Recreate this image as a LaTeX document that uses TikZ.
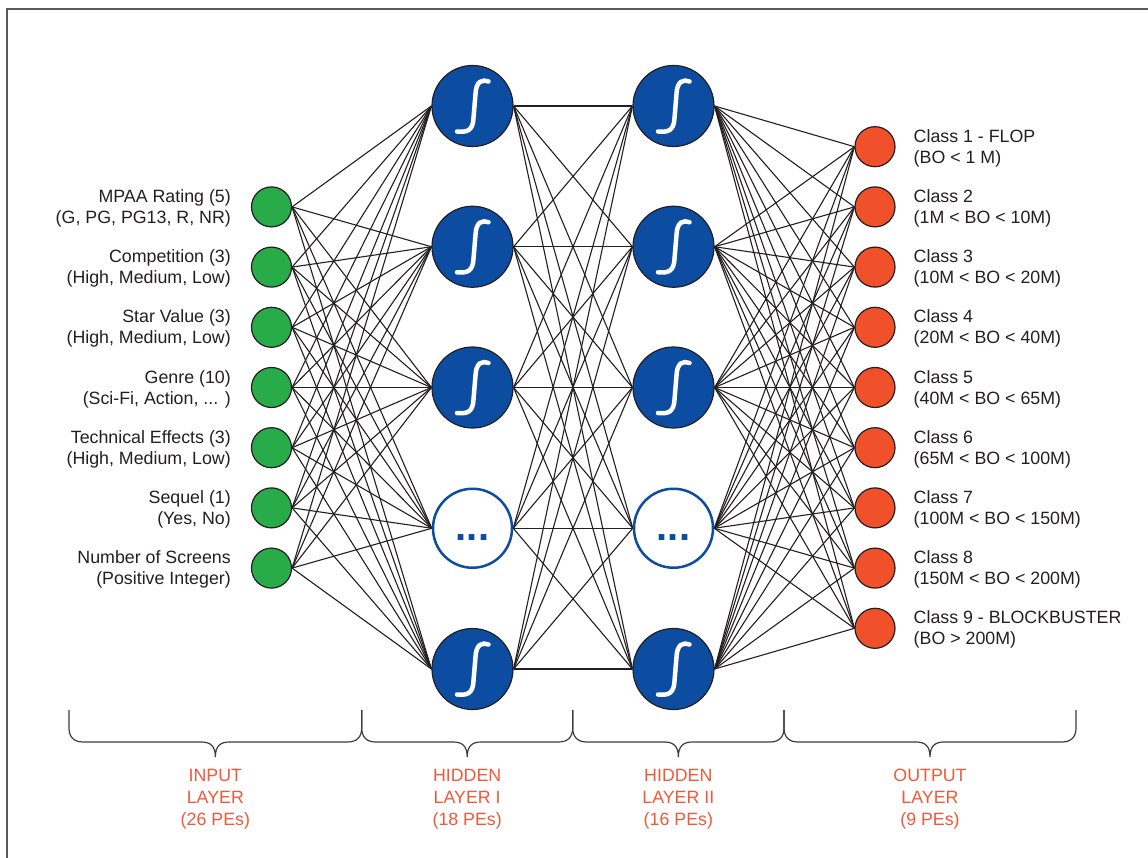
\documentclass[tikz,border=0pt]{standalone}
\usepackage{fontspec}
\setmainfont{Liberation Sans}
\pgfdeclarelayer{bg}
\pgfsetlayers{bg,main}
\definecolor{inkc}{RGB}{35,31,32}
\definecolor{greenfill}{RGB}{40,172,74}
\definecolor{orangefill}{RGB}{241,81,42}
\definecolor{bluefill}{RGB}{12,77,162}
\definecolor{layerorange}{RGB}{241,88,58}
\definecolor{bracec}{RGB}{60,60,60}
\definecolor{framec}{RGB}{90,90,90}
\tikzset{
  inp/.style={circle, draw=inkc, line width=1.2pt, fill=greenfill, minimum size=40pt, inner sep=0pt},
  outp/.style={circle, draw=inkc, line width=1.2pt, fill=orangefill, minimum size=40pt, inner sep=0pt},
  hid/.style={circle, draw=inkc, line width=1.2pt, fill=bluefill, minimum size=81pt, inner sep=0pt},
  hiddots/.style={circle, draw=bluefill, line width=2.5pt, fill=white, minimum size=79pt, inner sep=0pt},
  conn/.style={draw=inkc, line width=1.1pt},
  sigm/.style={draw=white, line width=4.5pt, line cap=round},
  inlbl/.style={anchor=east, align=right, inner sep=0pt, text=inkc, font=\fontsize{17.8}{21}\selectfont},
  outlbl/.style={anchor=west, align=left, inner sep=0pt, text=inkc, font=\fontsize{17.8}{21}\selectfont},
  layerlbl/.style={align=center, inner sep=0pt, text=layerorange, font=\fontsize{17.8}{22}\selectfont},
  brc/.style={draw=bracec, line width=1.2pt},
}
\begin{document}
\begin{tikzpicture}[x=1pt, y=-1pt]
\useasboundingbox (0,0) rectangle (1148,858);
% frame
\draw[framec, line width=2pt] (7,858) -- (7,9) -- (1148,9);

% input layer
\foreach \i/\t in {1/{MPAA Rating (5)\\(G, PG, PG13, R, NR)},
                   2/{Competition (3)\\(High, Medium, Low)},
                   3/{Star Value (3)\\(High, Medium, Low)},
                   4/{Genre (10)\\(Sci-Fi, Action, ... )},
                   5/{Technical Effects (3)\\(High, Medium, Low)},
                   6/{Sequel (1)\\(Yes, No)},
                   7/{Number of Screens\\(Positive Integer)}} {
  \node[inp] (in\i) at (271.5, {387.5+(\i-4)*60.2}) {};
  \node[inlbl] (inl\i) at (231, {389+(\i-4)*60.2}) {\t};
}

% hidden layers
\foreach \j in {1,2,3,5} {
  \node[hid] (ha\j) at (472.5, {106+(\j-1)*140.75}) {};
  \node[hid] (hb\j) at (673.5, {106+(\j-1)*140.75}) {};
}
\node[hiddots] (ha4) at (472.5, {106+3*140.75}) {};
\node[hiddots] (hb4) at (673.5, {106+3*140.75}) {};
\node[anchor=base, inner sep=0pt, text=bluefill, font=\bfseries\fontsize{40}{40}\selectfont] (da) at (472.5, 540.8) {...};
\node[anchor=base, inner sep=0pt, text=bluefill, font=\bfseries\fontsize{40}{40}\selectfont] (db) at (673.5, 540.8) {...};

% sigmoid glyphs
\foreach \j in {1,2,3,5} {
  \foreach \cx in {472.5, 673.5} {
    \begin{scope}[shift={(\cx, {106+(\j-1)*140.75})}]
      \draw[sigm] (-15.5,25.5) .. controls (-6,26.5) and (0.5,25) .. (1,12)
                  -- (3,-12) .. controls (3.5,-25) and (10,-27) .. (16,-24.5);
    \end{scope}
  }
}

% output layer
\foreach \k/\t in {1/{Class 1 - FLOP\\(BO < 1 M)},
                   2/{Class 2\\(1M < BO < 10M)},
                   3/{Class 3\\(10M < BO < 20M)},
                   4/{Class 4\\(20M < BO < 40M)},
                   5/{Class 5\\(40M < BO < 65M)},
                   6/{Class 6\\(65M < BO < 100M)},
                   7/{Class 7\\(100M < BO < 150M)},
                   8/{Class 8\\(150M < BO < 200M)},
                   9/{Class 9 - BLOCKBUSTER\\(BO > 200M)}} {
  \node[outp] (out\k) at (875, {387.5+(\k-5)*60.2}) {};
  \node[outlbl] (outl\k) at (913.5, {389+(\k-5)*60.2}) {\t};
}

% connections, kept underneath the nodes
\begin{pgfonlayer}{bg}
  \foreach \i in {1,...,7} \foreach \j in {1,...,5}
    \draw[conn] (in\i.east) -- (ha\j.west);
  \foreach \i in {1,...,5} \foreach \j in {1,...,5}
    \draw[conn] (ha\i.east) -- (hb\j.west);
  \foreach \i in {1,...,5} \foreach \k in {1,...,9}
    \draw[conn] (hb\i.east) -- (out\k.west);
\end{pgfonlayer}

% braces and layer captions
\foreach \a/\b/\t in {69/361.7/{INPUT\\LAYER\\(26 PEs)},
                      361.7/572.7/{HIDDEN\\LAYER I\\(18 PEs)},
                      572.7/784/{HIDDEN\\LAYER II\\(16 PEs)},
                      784/1076/{OUTPUT\\LAYER\\(9 PEs)}} {
  \pgfmathsetmacro\m{(\a+\b)/2}
  \draw[brc] (\a,710) -- (\a,728) .. controls (\a,737) and (\a+5,742) .. (\a+14,742)
    -- (\m-14,742) .. controls (\m-5,742) and (\m,746) .. (\m,757)
    .. controls (\m,746) and (\m+5,742) .. (\m+14,742)
    -- (\b-14,742) .. controls (\b-5,742) and (\b,737) .. (\b,728) -- (\b,710);
  \node[layerlbl] at (\m, 799.6) {\t};
}
\end{tikzpicture}
\end{document}
